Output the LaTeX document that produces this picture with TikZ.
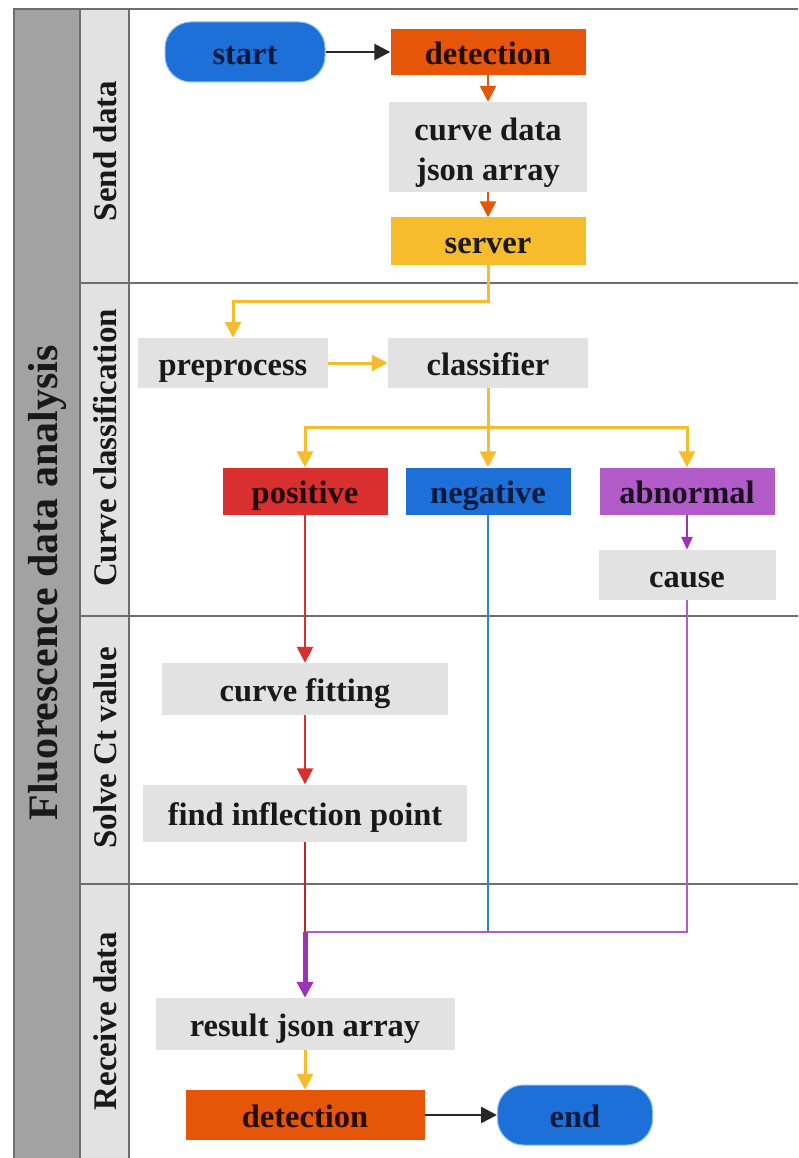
\documentclass[tikz,border=0pt]{standalone}
\usepackage{fontspec}
\setmainfont{Liberation Serif}
\usetikzlibrary{arrows.meta,positioning}
\definecolor{cblue}{HTML}{1C70D8}
\definecolor{cblueedge}{HTML}{86BDF2}
\definecolor{corange}{HTML}{E65608}
\definecolor{cyellow}{HTML}{F6BC2C}
\definecolor{cgray}{HTML}{E2E2E2}
\definecolor{cred}{HTML}{D92F2F}
\definecolor{cpurple}{HTML}{B15CC9}
\definecolor{cpurpleline}{HTML}{9E33BA}
\definecolor{cline}{HTML}{6E6E6E}
\definecolor{cdark}{HTML}{A2A2A2}
\definecolor{clabel}{HTML}{E2E2E2}
\definecolor{cnavy}{HTML}{0B1A3C}
\definecolor{cbline}{HTML}{2E86D2}
\tikzset{
  box/.style={rectangle, inner sep=0pt, align=center, font=\fontsize{32.5}{40}\selectfont\bfseries, text=black!90},
  one/.style={text height=27pt, text depth=2pt},
  graybox/.style={box, fill=cgray},
  orangebox/.style={box, one, fill=corange, text=black!85!corange},
  yellowbox/.style={box, one, fill=cyellow},
  redbox/.style={box, one, fill=cred, text=black!85!cred},
  bluebox/.style={box, one, fill=cblue, text=cnavy},
  purplebox/.style={box, one, fill=cpurple, text=black!85!cpurple},
  term/.style={box, one, fill=cblue, draw=cblueedge, line width=1pt, rounded corners=26pt, text=cnavy},
  lanetext/.style={rotate=90, font=\fontsize{33}{40}\selectfont\bfseries, text=black!90},
  frameline/.style={draw=cline, line width=2.5pt},
  tip/.style={-{Triangle[length=16pt,width=16pt]}},
  smalltip/.style={-{Triangle[length=13pt,width=11pt]}},
  blackarrow/.style={tip, draw=black!85, line width=2.6pt},
  orangearrow/.style={tip, draw=corange, line width=2.6pt},
  yellowarrow/.style={tip, draw=cyellow, line width=3pt},
  redarrow/.style={tip, draw=cred, line width=2.6pt},
  redline/.style={draw=cred!85!black, line width=2.4pt},
  blueline/.style={draw=cbline, line width=2pt},
  purpleline/.style={draw=cpurpleline!80!white, line width=2.6pt},
  purplearrow/.style={smalltip, draw=cpurpleline, line width=2.6pt},
  thickpurple/.style={tip, draw=cpurpleline, line width=5pt},
}
\begin{document}
\begin{tikzpicture}[x=1pt,y=-1pt]
\useasboundingbox (0,0) rectangle (798,1158);
\fill[white] (0,0) rectangle (798,1158);
% frame
\fill[cdark] (14,9) rectangle (80,1158);
\fill[clabel] (80,9) rectangle (129,1158);
\draw[frameline] (14,1158) -- (14,9) -- (798,9);
\draw[frameline] (80,9) -- (80,1158);
\draw[frameline] (129,9) -- (129,1158);
\draw[frameline] (80,283) -- (798,283);
\draw[frameline] (80,616) -- (798,616);
\draw[frameline] (80,884) -- (798,884);
% lane labels
\node[lanetext, font=\fontsize{42}{50}\selectfont\bfseries] (title) at (47,583) {Fluorescence data analysis};
\node[lanetext] (l1) at (105,151) {Send data};
\node[lanetext] (l2) at (105,448) {Curve classification};
\node[lanetext] (l3) at (105,748) {Solve Ct value};
\node[lanetext] (l4) at (105,1021) {Receive data};
% nodes
\node[term, minimum width=160pt, minimum height=60pt] (start) at (245,52) {start};
\node[orangebox, minimum width=195pt, minimum height=46pt] (det1) at (488,52) {detection};
\node[graybox, minimum width=198pt, minimum height=90pt] (curve) at (488,147) {\raisebox{-6pt}[\height][\depth]{\begin{tabular}{@{}c@{}}curve data\\json array\end{tabular}}};
\node[yellowbox, minimum width=195pt, minimum height=47pt] (server) at (488,241) {server};
\node[graybox, one, minimum width=190pt, minimum height=50pt] (pre) at (233,363) {preprocess};
\node[graybox, one, minimum width=200pt, minimum height=50pt] (cls) at (488,363) {classifier};
\node[redbox, minimum width=165pt, minimum height=47pt] (pos) at (305,491) {positive};
\node[bluebox, minimum width=165pt, minimum height=47pt] (neg) at (488,491) {negative};
\node[purplebox, minimum width=175pt, minimum height=47pt] (abn) at (687,491) {abnormal};
\node[graybox, one, minimum width=177pt, minimum height=50pt] (cause) at (687,575) {cause};
\node[graybox, one, minimum width=286pt, minimum height=52pt] (fit) at (305,689) {curve fitting};
\node[graybox, one, minimum width=324pt, minimum height=57pt] (infl) at (305,813) {find inflection point};
\node[graybox, one, minimum width=299pt, minimum height=52pt] (res) at (305,1024) {result json array};
\node[orangebox, minimum width=239pt, minimum height=50pt] (det2) at (305,1115) {detection};
\node[term, minimum width=155pt, minimum height=60pt] (end) at (575,1115) {end};
% coordinates
\coordinate (br) at (488,427);
\coordinate (join) at (305,932);
\coordinate (njoin) at (488,932);
\coordinate (cjoin) at (687,932);
% connectors
\draw[blackarrow] (start) -- (det1);
\draw[orangearrow] (det1) -- (curve);
\draw[orangearrow] (curve) -- (server);
\draw[yellowarrow] (server.south) -- ++(0,37) -| (pre.north);
\draw[yellowarrow] (pre) -- (cls);
\draw[yellowarrow] (cls) -- (neg);
\draw[yellowarrow] (br) -| (pos.north);
\draw[yellowarrow] (br) -| (abn.north);
\draw[redarrow] (pos) -- (fit);
\draw[redarrow] (fit) -- (infl);
\draw[redline] (infl.south) -- (join);
\draw[blueline] (neg.south) -- (njoin);
\draw[purplearrow] (abn) -- (cause);
\draw[purpleline] (cause.south) -- (cjoin) -- (join);
\draw[thickpurple] (join) -- (res.north);
\draw[yellowarrow] (res) -- (det2);
\draw[blackarrow] (det2) -- (end);
\end{tikzpicture}
\end{document}
